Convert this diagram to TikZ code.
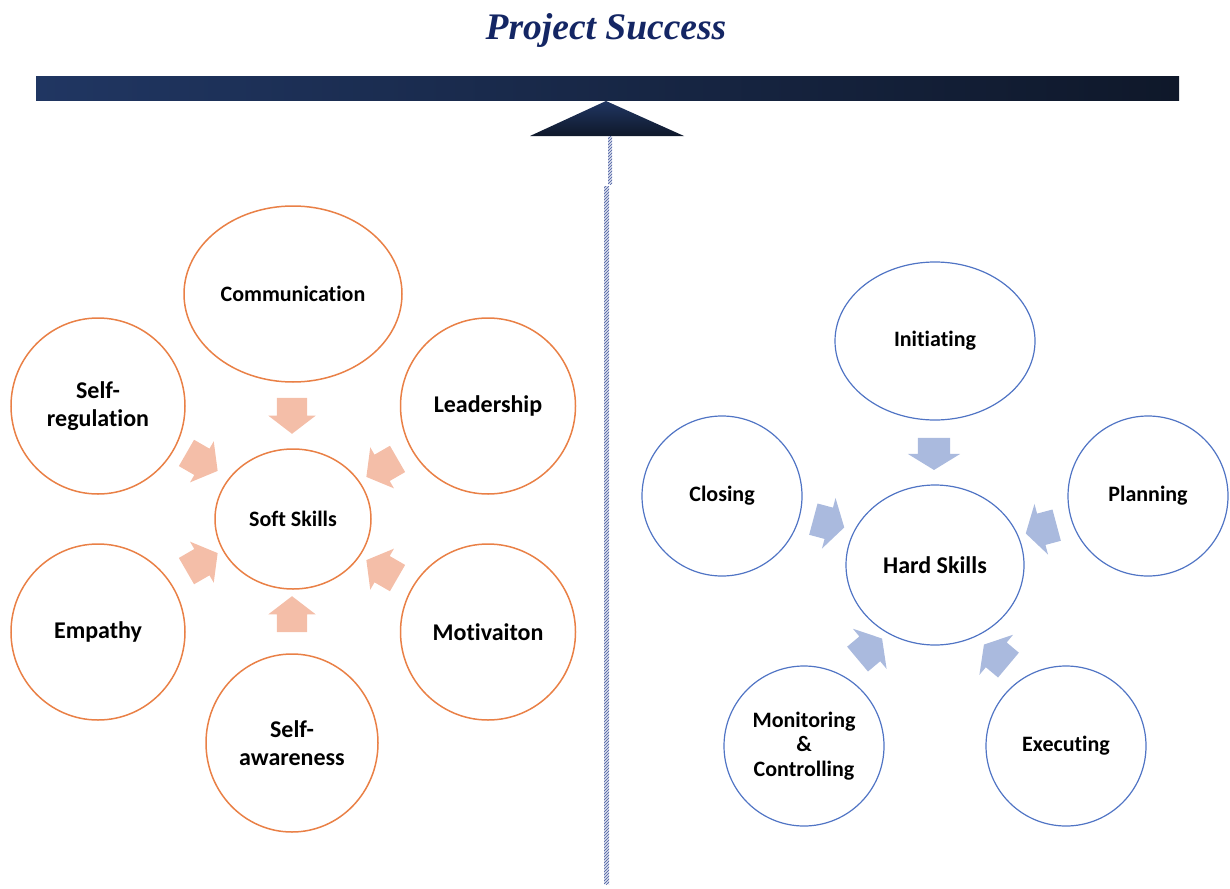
\documentclass[tikz,border=0pt]{standalone}
\usepackage{fontspec}
\setmainfont{Carlito}[Ligatures=NoCommon]
\newfontfamily\titlefont{Liberation Serif}
\usetikzlibrary{shapes.arrows,shapes.geometric,patterns}
\definecolor{ttlblue}{RGB}{20,38,100}
\definecolor{beamL}{RGB}{32,54,98}
\definecolor{beamR}{RGB}{15,24,42}
\definecolor{ringor}{RGB}{233,128,70}
\definecolor{ringbl}{RGB}{80,116,196}
\definecolor{arrpink}{RGB}{244,190,168}
\definecolor{arrblue}{RGB}{170,186,222}
\definecolor{hatch}{RGB}{70,90,160}
\tikzset{
  softring/.style={draw=ringor,line width=1.5pt,ellipse,inner sep=0pt,font=\bfseries\fontsize{24}{28}\selectfont,align=center},
  hardring/.style={draw=ringbl,line width=1.2pt,ellipse,inner sep=0pt,font=\bfseries\fontsize{22}{24.5}\selectfont,align=center},
  softarrow/.style={single arrow,fill=arrpink,draw=none,inner xsep=0pt,inner ysep=15pt,minimum height=36pt,minimum width=0pt,single arrow head extend=8.5pt,single arrow tip angle=105},
  hardarrow/.style={single arrow,fill=arrblue,draw=none,inner xsep=0pt,inner ysep=16pt,minimum height=32pt,minimum width=0pt,single arrow head extend=10pt,single arrow tip angle=117},
}
\begin{document}
\begin{tikzpicture}[x=1pt,y=-1pt]
\useasboundingbox (0,0) rectangle (1230,888);
% title and balance
\node[font=\titlefont\bfseries\itshape\fontsize{37.5}{40}\selectfont,text=ttlblue] (title) at (606,30) {Project Success};
\shade[left color=beamL,right color=beamR] (36,77) rectangle (1179,101);
\shade[top color=beamL,bottom color=beamR] (606,101) -- (684,136) -- (530,136) -- cycle;
\fill[white!80!hatch] (608,136) rectangle (612,184);
\fill[pattern=north east lines,pattern color=hatch] (608,136) rectangle (612,184);
\fill[white!80!hatch] (604,186) rectangle (609,884);
\fill[pattern=north east lines,pattern color=hatch] (604,186) rectangle (609,884);
% soft skills
\node[softring,minimum width=218pt,minimum height=176pt,font=\bfseries\fontsize{22}{26}\selectfont] (comm) at (293,294) {Communication};
\node[softring,minimum width=174pt,minimum height=176pt] (selfreg) at (98,406) {Self-\\regulation};
\node[softring,minimum width=175pt,minimum height=176pt] (lead) at (488,406) {Leadership};
\node[softring,minimum width=156pt,minimum height=140pt,font=\bfseries\fontsize{22}{26}\selectfont] (soft) at (293,519) {Soft Skills};
\node[softring,minimum width=174pt,minimum height=176pt] (emp) at (98,632) {Empathy};
\node[softring,minimum width=175pt,minimum height=176pt] (motiv) at (488,632) {Motivaiton};
\node[softring,minimum width=172pt,minimum height=178pt] (selfaw) at (292,743) {Self-\\awareness};
\node[softarrow,rotate=-90] (a1) at (292,410) {};
\node[softarrow,rotate=-30] (a2) at (197,459) {};
\node[softarrow,rotate=210] (a3) at (387,465) {};
\node[softarrow,rotate=30] (a4) at (197,565) {};
\node[softarrow,rotate=150] (a5) at (387,572) {};
\node[softarrow,rotate=90] (a6) at (292,620) {};
% hard skills
\node[hardring,minimum width=200pt,minimum height=158pt] (init) at (935,341) {Initiating};
\node[hardring,minimum width=160pt,minimum height=160pt] (clos) at (722,496) {Closing};
\node[hardring,minimum width=160pt,minimum height=160pt] (plan) at (1148,496) {Planning};
\node[hardring,minimum width=178pt,minimum height=160pt,font=\bfseries\fontsize{24}{28}\selectfont] (hard) at (935,565) {Hard Skills};
\node[hardring,minimum width=160pt,minimum height=160pt] (monit) at (804,746) {Monitoring\\\&\\Controlling};
\node[hardring,minimum width=160pt,minimum height=160pt] (exec) at (1066,746) {Executing};
\node[hardarrow,rotate=-90] (b1) at (934,449) {};
\node[hardarrow,rotate=-15] (b2) at (824,522) {};
\node[hardarrow,rotate=195] (b3) at (1046,528) {};
\node[hardarrow,rotate=40] (b4) at (866,652) {};
\node[hardarrow,rotate=140] (b5) at (1000,658) {};
\end{tikzpicture}
\end{document}
